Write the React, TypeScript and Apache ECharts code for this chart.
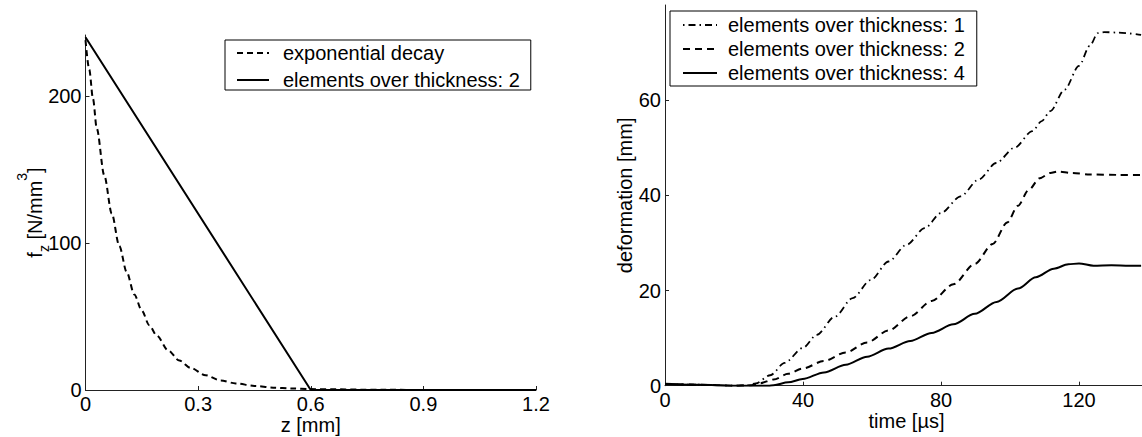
import React, { useEffect, useRef } from 'react';
import * as echarts from 'echarts';

const FONT = '"Liberation Sans", Arial, Helvetica, sans-serif';

// ---------- Left panel: body force over thickness ----------
const zTicks = [0, 0.3, 0.6, 0.9, 1.2];
const fTicks = [0, 100, 200];
const decayZ = [0, 0.01, 0.02, 0.03, 0.05, 0.07, 0.09, 0.11, 0.13, 0.15, 0.17, 0.19, 0.22, 0.25, 0.28, 0.32, 0.36, 0.4, 0.45, 0.5, 0.55, 0.6, 0.8, 1.0, 1.2];
const decayF = [238, 218, 198, 178, 146, 120, 98, 80, 65, 54, 44, 37, 27, 20, 15, 10, 6.5, 4.5, 2.8, 1.6, 1, 0.6, 0.1, 0, 0];
const linearZ = [0, 0.6, 1.2];
const linearF = [240, 0, 0];
const leftNames = ['exponential decay', 'elements over thickness: 2'];

// ---------- Right panel: deformation over time ----------
const timeTicks = [0, 40, 80, 120];
const deformTicks = [0, 20, 40, 60];
const t1 = [0, 10, 20, 24, 26.3, 30.5, 34.7, 39.9, 44, 49.2, 54.4, 59.6, 64.8, 70, 75.3, 80, 85.7, 90.9, 96, 101.3, 106.5, 109.2, 111.7, 115.8, 120, 123.1, 125.5, 127.3, 131.5, 138];
const d1 = [0.4, 0.2, 0, 0.1, 0.5, 2.2, 4.8, 7.9, 10.7, 14.5, 18.4, 22.2, 26.1, 29.6, 33.1, 36.3, 39.8, 43.3, 46.8, 50, 53.5, 55.6, 57.7, 62.2, 67.2, 71.4, 74.1, 74.3, 74.2, 73.7];
const t2 = [0, 10, 20, 25, 27.4, 31.5, 35.7, 39.9, 46.1, 52.4, 58.6, 64.8, 71.1, 77.3, 83.6, 89.8, 95, 99.2, 102.3, 105.4, 108.6, 111.7, 113.8, 118, 123.1, 131.5, 138];
const d2 = [0.4, 0.2, 0, 0.1, 0.5, 1.3, 2.5, 3.6, 5.2, 7.0, 9.1, 11.6, 14.6, 17.8, 21.3, 25.6, 29.8, 34.3, 37.8, 41.1, 43.6, 44.7, 45, 44.7, 44.4, 44.3, 44.3];
const t4 = [0, 10, 20, 30, 31.5, 35.7, 39.9, 46.1, 52.4, 58.6, 64.8, 71.1, 77.3, 83.6, 89.8, 96.1, 102.3, 107.5, 112.7, 116.9, 120, 124.2, 129.4, 134.6, 138];
const d4 = [0.3, 0.2, 0, 0, 0.1, 0.7, 1.4, 2.8, 4.4, 6.1, 7.8, 9.4, 11.1, 12.9, 15.1, 17.6, 20.4, 22.8, 24.6, 25.5, 25.7, 25.2, 25.3, 25.2, 25.2];
const rightIds = ['r1', 'r2', 'r4'];
const rightNames = ['elements over thickness: 1', 'elements over thickness: 2', 'elements over thickness: 4'];

const zip = (xs: number[], ys: number[]) => xs.map((x, i) => [x, ys[i]]);

const AX = '#222';
const axisLine = { show: true, onZero: false, lineStyle: { color: AX, width: 1 } };
const tickBase = { show: true, inside: true, length: 4, lineStyle: { color: AX, width: 1 } };
const labelBase = { fontSize: 20, color: '#000', fontFamily: FONT };
const nameStyle = { fontSize: 20, color: '#000', fontFamily: FONT };

const legendLabel: Record<string, string> = {};
rightIds.forEach((id, i) => (legendLabel[id] = rightNames[i]));
leftNames.forEach((n) => (legendLabel[n] = n));

const hiddenSymbol = { color: 'rgba(0,0,0,0)', borderWidth: 0, opacity: 0 };

function buildOption() {
  return {
    animation: false,
    backgroundColor: '#fff',
    textStyle: { fontFamily: FONT },
    grid: [
      { left: 85.5, top: 35, width: 450.5, height: 355, outerBoundsMode: 'none', containLabel: false },
      { left: 665, top: 5, width: 483, height: 380.7, outerBoundsMode: 'none', containLabel: false },
    ],
    xAxis: [
      {
        type: 'value', gridIndex: 0, min: 0, max: 1.2, interval: 0.3,
        axisLine, axisTick: { ...tickBase, customValues: zTicks },
        axisLabel: { ...labelBase, margin: 4, customValues: zTicks, formatter: (v: number) => String(v) },
        splitLine: { show: false },
        name: 'z [mm]', nameLocation: 'middle', nameGap: 25, nameTextStyle: nameStyle, nameMoveOverlap: false,
      },
      {
        type: 'value', gridIndex: 1, min: 0, max: 140, interval: 40,
        axisLine, axisTick: { ...tickBase, customValues: timeTicks },
        axisLabel: { ...labelBase, margin: 4, customValues: timeTicks },
        splitLine: { show: false },
        name: 'time [µs]', nameLocation: 'middle', nameGap: 25, nameTextStyle: nameStyle, nameMoveOverlap: false,
      },
    ],
    yAxis: [
      {
        type: 'value', gridIndex: 0, min: 0, max: 241.5,
        axisLine, axisTick: { ...tickBase, customValues: fTicks },
        axisLabel: { ...labelBase, margin: 4, customValues: fTicks },
        splitLine: { show: false },
        name: '{m|f}{s|z}{m| [N/mm}{p|3}{m|]}', nameLocation: 'middle', nameGap: 31, nameMoveOverlap: false,
        nameTextStyle: {
          ...nameStyle,
          rich: {
            m: { fontSize: 20, lineHeight: 40, color: '#000', fontFamily: FONT },
            s: { fontSize: 14, color: '#000', fontFamily: FONT, verticalAlign: 'bottom', padding: [0, 0, 4, 0] },
            p: { fontSize: 14, color: '#000', fontFamily: FONT, verticalAlign: 'top' },
          },
        },
      },
      {
        type: 'value', gridIndex: 1, min: 0, max: 80,
        axisLine, axisTick: { ...tickBase, customValues: deformTicks },
        axisLabel: { ...labelBase, margin: 4, customValues: deformTicks },
        splitLine: { show: false },
        name: 'deformation [mm]', nameLocation: 'middle', nameGap: 29, nameMoveOverlap: false,
        nameTextStyle: { ...nameStyle, lineHeight: 22 },
      },
    ],
    legend: [
      {
        data: leftNames, orient: 'vertical', left: 225, top: 40,
        padding: [3, 11, 0, 11], itemGap: 7, itemWidth: 32, itemHeight: 20,
        borderColor: '#000', borderWidth: 1, backgroundColor: '#fff', selectedMode: false,
        itemStyle: hiddenSymbol,
        formatter: (n: string) => legendLabel[n],
        textStyle: { fontSize: 20, lineHeight: 20, color: '#000', fontFamily: FONT, padding: [0, 0, 0, 9] },
      },
      {
        data: rightIds, orient: 'vertical', left: 670, top: 11,
        padding: [4, 12, 3, 12], itemGap: 4, itemWidth: 34, itemHeight: 20,
        borderColor: '#000', borderWidth: 1, backgroundColor: '#fff', selectedMode: false,
        itemStyle: hiddenSymbol,
        formatter: (n: string) => legendLabel[n],
        textStyle: { fontSize: 20, lineHeight: 20, color: '#000', fontFamily: FONT, padding: [0, 0, 0, 6] },
      },
    ],
    series: [
      {
        type: 'line', name: leftNames[0], xAxisIndex: 0, yAxisIndex: 0, data: zip(decayZ, decayF),
        symbol: 'none', smooth: 0.3, smoothMonotone: 'x', color: '#000',
        lineStyle: { color: '#000', width: 2, type: [6, 4] }, silent: true,
      },
      {
        type: 'line', name: leftNames[1], xAxisIndex: 0, yAxisIndex: 0, data: zip(linearZ, linearF),
        symbol: 'none', color: '#000',
        lineStyle: { color: '#000', width: 2, type: 'solid' }, silent: true,
      },
      {
        type: 'line', name: rightIds[0], xAxisIndex: 1, yAxisIndex: 1, data: zip(t1, d1),
        symbol: 'none', smooth: 0.3, smoothMonotone: 'x', color: '#000',
        lineStyle: { color: '#000', width: 1.8, type: [1.5, 4, 7, 4] }, silent: true,
      },
      {
        type: 'line', name: rightIds[1], xAxisIndex: 1, yAxisIndex: 1, data: zip(t2, d2),
        symbol: 'none', smooth: 0.3, smoothMonotone: 'x', color: '#000',
        lineStyle: { color: '#000', width: 2, type: [7, 5] }, silent: true,
      },
      {
        type: 'line', name: rightIds[2], xAxisIndex: 1, yAxisIndex: 1, data: zip(t4, d4),
        symbol: 'none', smooth: 0.3, smoothMonotone: 'x', color: '#000',
        lineStyle: { color: '#000', width: 2, type: 'solid' }, silent: true,
      },
    ],
  };
}

export default function App() {
  const ref = useRef<HTMLDivElement>(null);
  useEffect(() => {
    if (!ref.current) return;
    const chart = echarts.init(ref.current, null, { renderer: 'svg' });
    chart.setOption(buildOption() as any);
    return () => chart.dispose();
  }, []);
  return (
    <div
      ref={ref}
      style={{ position: 'fixed', left: 0, top: 0, width: 1142, height: 437, background: '#fff' }}
    />
  );
}
